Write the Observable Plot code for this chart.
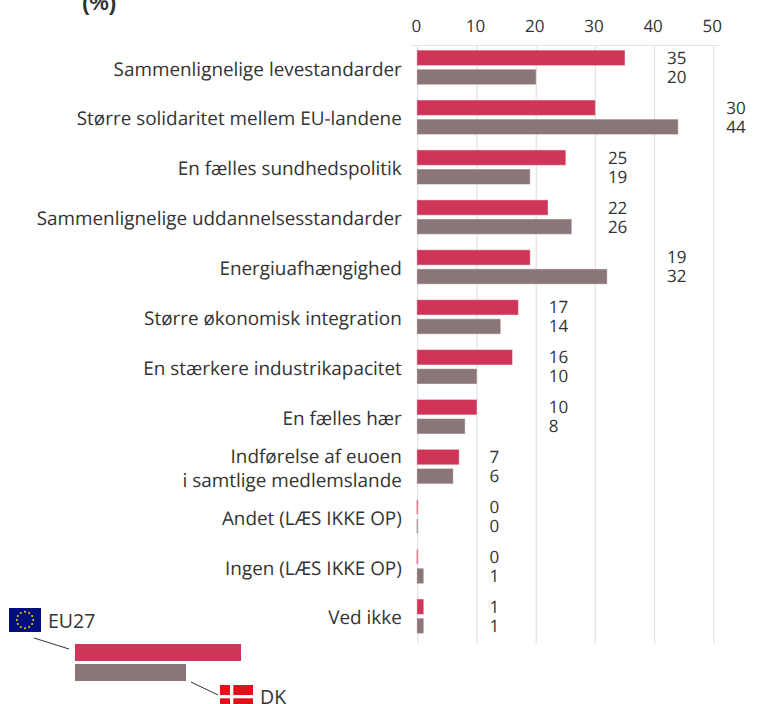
<!DOCTYPE html>
<html><head><meta charset="utf-8">
<script src="https://cdn.jsdelivr.net/npm/d3@7"></script>
<script src="https://cdn.jsdelivr.net/npm/@observablehq/plot@0.6"></script>
<style>
html,body{margin:0;padding:0;background:#fff;overflow:hidden}
#wrap{position:relative;width:757px;height:704px;overflow:hidden;font-family:"Open Sans",sans-serif;color:#333}
#wrap svg{display:block;text-rendering:geometricPrecision}
.abs{position:absolute;white-space:nowrap}
.leg{font-size:19.5px;line-height:20px}
</style></head><body>
<div id="wrap"></div>
<script>
const categories = [
  "Sammenlignelige levestandarder",
  "Større solidaritet mellem EU-landene",
  "En fælles sundhedspolitik",
  "Sammenlignelige uddannelsesstandarder",
  "Energiuafhængighed",
  "Større økonomisk integration",
  "En stærkere industrikapacitet",
  "En fælles hær",
  "Indførelse af euoen\ni samtlige medlemslande",
  "Andet (LÆS IKKE OP)",
  "Ingen (LÆS IKKE OP)",
  "Ved ikke"
];
const eu27 = [35,30,25,22,19,17,16,10,7,0,0,1];
const dk   = [20,44,19,26,32,14,10,8,6,0,1,1];
const xTicks = [0,10,20,30,40,50];
const euColor = "#cf3558", dkColor = "#8a7679", ink = "#333333";

const euRows = categories.map((c,i)=>({c, v:eu27[i], at:(Math.floor(Math.max(eu27[i],dk[i])/10)+1)*10}));
const dkRows = categories.map((c,i)=>({c, v:dk[i], at:(Math.floor(Math.max(eu27[i],dk[i])/10)+1)*10}));
const fontSize = 18.9;

const chart = Plot.plot({
  width:757, height:704,
  marginTop:45, marginBottom:60, marginLeft:411, marginRight:37,
  style:{background:"transparent", fontFamily:'"Open Sans",sans-serif', overflow:"hidden"},
  x:{domain:[0,50], range:[417.3,713.3], axis:null},
  y:{domain:categories, range:[42.45,641.25], padding:0, round:false, axis:null},
  marks:[
    Plot.ruleX(xTicks,{stroke:"#e3e3e3", strokeWidth:1.2}),
    Plot.frame({anchor:"top", stroke:"#e3e3e3", strokeWidth:1.2}),
    Plot.axisX({anchor:"top", ticks:xTicks, tickSize:0, tickPadding:14, fontSize:17, fill:ink, tickFormat:d=>String(d), label:null, dx:-1.5}),
    Plot.barX(euRows,{x:"v", y:"c", fill:euColor, stroke:euColor, strokeOpacity:0.55, strokeWidth:1, insetTop:8.2, insetBottom:27.3}),
    Plot.barX(dkRows,{x:"v", y:"c", fill:dkColor, stroke:dkColor, strokeOpacity:0.55, strokeWidth:1, insetTop:27.3, insetBottom:8.2}),
    Plot.barX(euRows.filter(d=>d.v===0),{x1:"v", x2:"v", y:"c", fill:euColor, fillOpacity:0.6, insetLeft:-0.8, insetRight:-0.8, insetTop:8.2, insetBottom:27.3}),
    Plot.barX(dkRows.filter(d=>d.v===0),{x1:"v", x2:"v", y:"c", fill:dkColor, fillOpacity:0.6, insetLeft:-0.8, insetRight:-0.8, insetTop:27.3, insetBottom:8.2}),
    Plot.text(euRows,{x:"at", y:"c", text:d=>String(d.v), dx:12.5, dy:-9.5, textAnchor:"start", fontSize:17, fill:ink}),
    Plot.text(dkRows,{x:"at", y:"c", text:d=>String(d.v), dx:12.5, dy:9.5, textAnchor:"start", fontSize:17, fill:ink}),
    Plot.text(categories,{x:()=>0, y:d=>d, text:d=>d, dx:-16, dy:0, textAnchor:"end", fontSize, lineHeight:1.27, fill:ink})
  ]
});
const wrap = document.getElementById("wrap");
wrap.appendChild(chart);

const add = html => wrap.insertAdjacentHTML("beforeend", html);
add(`<div class="abs" style="left:82px;top:-10px;font:bold 22px 'Liberation Sans',sans-serif;color:#333">(%)</div>`);
add(`<div class="abs" style="left:74.5px;top:644px;width:166.5px;height:17px;background:${euColor}"></div>`);
add(`<div class="abs" style="left:74.5px;top:663.5px;width:111px;height:17px;background:${dkColor}"></div>`);
add(`<div class="abs leg" style="left:48px;top:611px">EU27</div>`);
add(`<div class="abs leg" style="left:260px;top:687px">DK</div>`);
const stars = d3.range(12).map(i=>{const a=i*Math.PI/6;return `<circle cx="${16+8.2*Math.cos(a)}" cy="${12+8.2*Math.sin(a)}" r="1" fill="#ffcc00"/>`}).join("");
add(`<svg class="abs" style="left:9px;top:608px" width="32" height="24"><rect width="32" height="24" fill="#000f7a"/>${stars}</svg>`);
add(`<svg class="abs" style="left:220px;top:685px" width="33" height="24"><rect width="33" height="24" fill="#e0111b"/><rect x="10" width="3.3" height="24" fill="#fff"/><rect y="10" width="33" height="3.3" fill="#fff"/></svg>`);
add(`<svg class="abs" style="left:0;top:0;pointer-events:none" width="757" height="704"><line x1="34" y1="638" x2="69" y2="649" stroke="#333"/><line x1="191" y1="682" x2="218" y2="695" stroke="#333"/></svg>`);
</script>
</body></html>
